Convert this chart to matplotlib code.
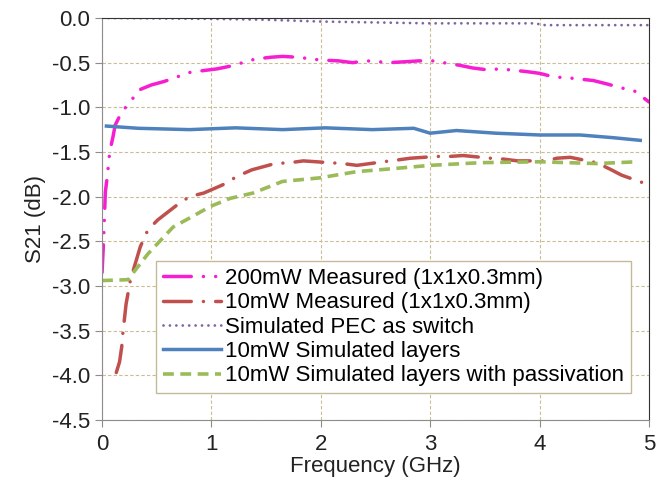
import matplotlib.pyplot as plt

plt.rcParams['font.family'] = ['Liberation Sans', 'DejaVu Sans']

# 200mW measured
x_200 = [0.0, 0.01, 0.02, 0.03, 0.05, 0.07, 0.1, 0.12, 0.18, 0.26, 0.33, 0.45, 0.57, 0.8,
         0.92, 1.05, 1.17, 1.4, 1.54, 1.65, 1.79, 1.99, 2.16, 2.29, 2.42, 2.63, 2.77, 2.9,
         3.02, 3.27, 3.39, 3.52, 3.64, 3.88, 4.0, 4.13, 4.26, 4.49, 4.62, 4.74, 4.87, 5.0]
y_200 = [-2.85, -2.6, -2.3, -1.95, -1.75, -1.5, -1.33, -1.2, -1.05, -0.94, -0.81, -0.75,
         -0.71, -0.61, -0.59, -0.57, -0.54, -0.46, -0.44, -0.43, -0.44, -0.47, -0.48, -0.5,
         -0.48, -0.5, -0.49, -0.48, -0.48, -0.53, -0.56, -0.58, -0.57, -0.6, -0.62, -0.66,
         -0.67, -0.7, -0.74, -0.78, -0.82, -0.94]

# 10mW measured
x_10 = [0.13, 0.16, 0.18, 0.19, 0.22, 0.26, 0.35, 0.42, 0.51, 0.7, 0.8, 0.93, 1.1, 1.24,
        1.37, 1.58, 1.72, 1.84, 2.08, 2.2, 2.33, 2.57, 2.7, 2.82, 3.06, 3.18, 3.3, 3.55,
        3.67, 3.8, 4.05, 4.16, 4.28, 4.52, 4.64, 4.75, 4.98]
y_10 = [-3.97, -3.85, -3.68, -3.53, -3.2, -2.93, -2.56, -2.37, -2.26, -2.08, -2.0, -1.96,
        -1.87, -1.77, -1.7, -1.63, -1.62, -1.6, -1.62, -1.63, -1.65, -1.61, -1.59, -1.57,
        -1.55, -1.55, -1.54, -1.57, -1.58, -1.6, -1.6, -1.57, -1.56, -1.62, -1.69, -1.76,
        -1.86]

# simulated PEC as switch
x_pec = [0.0, 0.5, 1.0, 1.5, 2.0, 2.5, 3.0, 3.5, 3.95, 4.05, 4.5, 5.0]
y_pec = [0.0, -0.005, -0.01, -0.02, -0.04, -0.05, -0.06, -0.06, -0.06, -0.08, -0.08, -0.08]

# 10mW simulated layers
x_sim = [0.04, 0.33, 0.8, 1.22, 1.65, 2.04, 2.47, 2.85, 3.0, 3.24, 3.6, 4.0, 4.37, 4.67, 4.92]
y_sim = [-1.21, -1.235, -1.25, -1.23, -1.25, -1.23, -1.25, -1.235, -1.29, -1.26, -1.29,
         -1.31, -1.31, -1.34, -1.37]

# 10mW simulated layers with passivation
x_pas = [0.0, 0.24, 0.28, 0.42, 0.65, 0.8, 0.99, 1.17, 1.38, 1.65, 1.99, 2.33, 2.63, 3.0,
         3.46, 4.0, 4.52, 4.89]
y_pas = [-2.94, -2.93, -2.86, -2.64, -2.34, -2.24, -2.11, -2.02, -1.96, -1.83, -1.79, -1.72,
         -1.69, -1.65, -1.62, -1.61, -1.63, -1.61]

labels = ['200mW Measured (1x1x0.3mm)', '10mW Measured (1x1x0.3mm)',
          'Simulated PEC as switch', '10mW Simulated layers',
          '10mW Simulated layers with passivation']

y_ticks = [0.0, -0.5, -1.0, -1.5, -2.0, -2.5, -3.0, -3.5, -4.0, -4.5]
y_ticklabels = ['0.0', '-0.5', '-1.0', '-1.5', '-2.0', '-2.5', '-3.0', '-3.5', '-4.0', '-4.5']

fig = plt.figure(figsize=(6.67, 4.86), dpi=100)
ax = fig.add_axes([0.153, 0.136, 0.82, 0.827])

ax.plot(x_200, y_200, color='#f71ed2', lw=2.5, dashes=(8, 3.5, 0.01, 3.5, 0.01, 3.5),
        dash_capstyle='round', label=labels[0])
ax.plot(x_10, y_10, color='#c0504d', lw=2.5, dashes=(8, 3.5, 0.01, 3.5),
        dash_capstyle='round', label=labels[1])
ax.plot(x_pec, y_pec, color='#8064a2', lw=2, dashes=(0.01, 2.3),
        dash_capstyle='round', label=labels[2])
ax.plot(x_sim, y_sim, color='#4f81bd', lw=2.5, label=labels[3])
ax.plot(x_pas, y_pas, color='#9bbb59', lw=2.6, dashes=(3, 1.8), label=labels[4])

ax.set_xlim(0, 5)
ax.set_ylim(-4.5, 0)
ax.set_yticks(y_ticks)
ax.set_yticklabels(y_ticklabels)
ax.set_xticks(range(6))

ax.grid(True, color='#c9bd95', linestyle=(0, (3, 2)), linewidth=0.8)
ax.set_axisbelow(True)
for s in ['left', 'bottom']:
    ax.spines[s].set_color('#8c8c8c')
for s in ['top', 'right']:
    ax.spines[s].set_color('#333333')
ax.tick_params(direction='out', length=5, color='#8c8c8c', labelsize=16,
               labelcolor='#222222')
ax.tick_params(axis='x', pad=5)

ax.set_xlabel('Frequency (GHz)', fontsize=16, color='#222222', labelpad=1)
ax.set_ylabel('S21 (dB)', fontsize=16, color='#222222', labelpad=4)

leg = ax.legend(loc='lower left', bbox_to_anchor=(0.099, 0.067), borderaxespad=0,
                fontsize=16, fancybox=False, framealpha=1, edgecolor='#c4b998',
                handlelength=2.6, handletextpad=0.2, labelspacing=0.15,
                borderpad=0.3)
leg.get_frame().set_linewidth(1)

fig.savefig('out.png', dpi=100)
